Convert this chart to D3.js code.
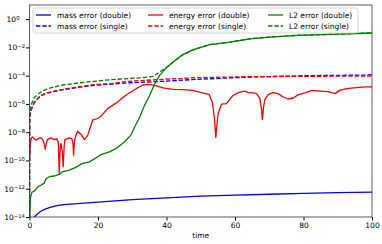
<!DOCTYPE html>
<head>
  <meta charset="utf-8">
  <style>
    body { margin: 0; background: white; }
    svg text { font-family: "DejaVu Sans", sans-serif; font-size: 7.5px; fill: black; }
    svg .series { fill: none; stroke-width: 1.3px; stroke-linejoin: round; }
    svg .dashed { stroke-dasharray: 4.4, 1.9; }
  </style>
</head>
<body>
<script src="https://cdn.jsdelivr.net/npm/d3@7"></script>
<script>
  // values, stored as log10 of the error
  var massDoubleT   = [1.2, 2, 3, 4, 6, 8, 10, 15, 20, 30, 40, 50, 60, 70, 80, 90, 100];
  var massDoubleLog = [-14.05, -13.85, -13.65, -13.5, -13.32, -13.2, -13.12, -13.03, -12.95, -12.77, -12.64, -12.53, -12.45, -12.39, -12.33, -12.28, -12.24];

  var massSingleT   = [0, 0.05, 0.4, 1.4, 3.3, 5.3, 9.2, 14, 18.9, 23.8, 29.2, 39, 48.7, 64.3, 81, 100];
  var massSingleLog = [-14.5, -6.9, -6.5, -5.9, -5.42, -5.23, -5.02, -4.83, -4.68, -4.6, -4.5, -4.4, -4.26, -4.1, -4.0, -3.95];

  var energyDoubleT   = [0, 0.2, 0.5, 0.88, 1.84, 3.13, 3.8, 4.3, 4.59, 4.9, 5.26, 6.23, 7.22, 7.89, 8.4, 8.68, 8.95, 9.15, 9.55, 9.85, 10.1, 10.32, 11.6, 12.37, 12.7, 12.87, 13.05, 13.25, 14.04, 15, 16, 16.96, 18.42, 19.88, 20.85, 22.8, 24.27, 25.73, 27.7, 29.6, 31.6, 33.1, 34.6, 36.5, 39, 41.9, 44.8, 47.7, 50.2, 52.4, 53.4, 54.0, 54.4, 54.8, 55.1, 56.05, 57.5, 59.4, 61.4, 62.9, 63.8, 65.3, 66.3, 67.25, 67.7, 68.0, 68.3, 68.7, 69.7, 71.1, 72.6, 74.1, 75.5, 77, 78.5, 80.4, 82.4, 84.8, 87.2, 89.2, 90.6, 92.6, 95.5, 98, 100];
  var energyDoubleLog = [-10, -8.9, -8.45, -8.33, -8.57, -8.38, -8.5, -8.8, -9.22, -8.8, -8.52, -8.4, -8.52, -8.45, -8.7, -10.92, -9.2, -8.8, -9.3, -10.45, -9.1, -8.52, -8.4, -8.45, -8.8, -9.62, -8.9, -8.45, -7.93, -8.14, -8.52, -8.24, -7.15, -7.03, -6.87, -6.33, -6.1, -5.86, -5.46, -5.16, -4.85, -4.66, -4.61, -4.68, -4.87, -4.97, -4.99, -5.04, -5.2, -5.32, -5.9, -7.0, -8.38, -7.3, -6.68, -6.02, -5.98, -5.39, -5.16, -5.09, -5.18, -5.22, -5.27, -5.6, -6.3, -7.1, -6.3, -5.7, -5.34, -5.2, -5.27, -5.51, -5.65, -5.58, -5.34, -5.22, -5.04, -5.09, -5.13, -5.27, -5.04, -4.92, -4.85, -4.8, -4.8];

  var energySingleT   = [0, 0.05, 0.4, 1.4, 3.3, 5.3, 9.2, 14, 18.9, 23.8, 28.7, 39, 48.7, 64.3, 81, 100];
  var energySingleLog = [-14.5, -7.3, -6.45, -5.86, -5.39, -5.2, -4.99, -4.8, -4.63, -4.56, -4.4, -4.26, -4.14, -4.07, -4.05, -4.02];

  var l2DoubleT   = [0, 0.3, 0.7, 1.5, 2.3, 3.3, 4.3, 4.8, 5.8, 7.2, 8.7, 9.6, 11.6, 13.5, 15.5, 17.5, 19.4, 20.9, 23.3, 25.3, 27.7, 29.6, 30.7, 32.2, 33.6, 35.1, 36.5, 38, 40, 42.4, 44.5, 47.7, 52.6, 58.5, 64.3, 70.2, 78, 87.7, 100];
  var l2DoubleLog = [-14.5, -12.6, -12.25, -12.15, -11.9, -11.75, -11.6, -11.3, -11.15, -11.1, -10.99, -10.8, -10.68, -10.49, -10.21, -10.1, -9.82, -9.58, -9.39, -9.15, -8.69, -8.21, -7.63, -6.92, -6.1, -5.39, -4.61, -3.98, -3.43, -2.95, -2.55, -2.17, -1.81, -1.63, -1.39, -1.27, -1.15, -1.08, -0.98];

  var l2SingleT   = [0, 0.05, 0.4, 1.4, 3.3, 5.3, 9.2, 14, 18.9, 23.8, 28.7, 33.1, 36, 38, 39.5, 40, 42.4, 44.5, 47.7, 52.6, 58.5, 64.3, 70.2, 78, 87.7, 100];
  var l2SingleLog = [-14.5, -6.8, -6.1, -5.55, -5.16, -4.92, -4.68, -4.52, -4.4, -4.28, -4.21, -4.14, -4.05, -3.75, -3.48, -3.43, -2.95, -2.55, -2.17, -1.81, -1.63, -1.39, -1.27, -1.15, -1.08, -0.98];

  var xTicks = [0, 20, 40, 60, 80, 100];
  var yTickExp = [0, -2, -4, -6, -8, -10, -12, -14];

  var series = [
    { name: "mass error (double)",   t: massDoubleT,   v: massDoubleLog,   color: "#0000ff", dashed: false },
    { name: "mass error (single)",   t: massSingleT,   v: massSingleLog,   color: "#0000ff", dashed: true },
    { name: "energy error (double)", t: energyDoubleT, v: energyDoubleLog, color: "#ff0000", dashed: false },
    { name: "energy error (single)", t: energySingleT, v: energySingleLog, color: "#ff0000", dashed: true },
    { name: "L2 error (double)",     t: l2DoubleT,     v: l2DoubleLog,     color: "#008000", dashed: false },
    { name: "L2 error (single)",     t: l2SingleT,     v: l2SingleLog,     color: "#008000", dashed: true }
  ];

  var W = 382, H = 244;
  var margin = { top: 5, right: 10, bottom: 27, left: 29.5 };
  var width = W - margin.left - margin.right,
      height = H - margin.top - margin.bottom;

  var svg = d3.select("body").append("svg")
      .attr("width", W).attr("height", H);
  var g = svg.append("g")
      .attr("transform", "translate(" + margin.left + "," + margin.top + ")");

  var xScale = d3.scaleLinear().domain([0, 100]).range([0, width]);
  var yScale = d3.scaleLog().domain([1e-14, 1e1]).range([height, 0]);

  g.append("clipPath").attr("id", "clip")
    .append("rect").attr("width", width).attr("height", height);

  var line = d3.line()
    .x(function (d) { return xScale(d[0]); })
    .y(function (d) { return yScale(d[1]); });

  var plot = g.append("g").attr("clip-path", "url(#clip)");
  series.forEach(function (s) {
    var pts = s.t.map(function (t, i) { return [t, Math.pow(10, s.v[i])]; });
    plot.append("path")
      .attr("class", "series" + (s.dashed ? " dashed" : ""))
      .attr("d", line(pts))
      .style("stroke", s.color);
  });

  // x axis
  var xAxis = g.append("g")
      .attr("transform", "translate(0," + height + ")")
      .call(d3.axisBottom(xScale).tickValues(xTicks).tickSize(3.5).tickPadding(2));
  xAxis.select(".domain").remove();
  xAxis.selectAll("text").style("font-size", "7.5px").style("font-family", "DejaVu Sans");

  // y axis
  var yAxis = g.append("g")
      .call(d3.axisLeft(yScale)
        .tickValues(yTickExp.map(function (e) { return Math.pow(10, e); }))
        .tickSize(3.5)
        .tickFormat(""));
  yAxis.select(".domain").remove();
  yAxis.selectAll(".tick").each(function (d) {
    var e = Math.round(Math.log10(d));
    var t = d3.select(this).append("text")
      .attr("x", e === 0 ? -10 : -4.5)
      .attr("dy", "0.32em")
      .style("text-anchor", "end")
      .style("fill", "black");
    t.append("tspan").text("10");
    t.append("tspan").attr("dy", "-0.45em").style("font-size", "5.3px")
      .text(e < 0 ? "\u2212" + (-e) : e);
  });

  // frame
  g.append("rect")
    .attr("width", width).attr("height", height)
    .style("fill", "none").style("stroke", "#333").style("stroke-width", 0.8);

  g.append("text")
    .attr("x", width / 2).attr("y", height + 20.5)
    .style("text-anchor", "middle")
    .text("time");

  // legend
  var legend = g.append("g").attr("transform", "translate(3.5,3)");
  legend.append("rect")
    .attr("width", 325).attr("height", 25).attr("rx", 2)
    .style("fill", "white").style("fill-opacity", 0.8)
    .style("stroke", "#ccc").style("stroke-width", 0.8);
  var colX = [3, 115, 235];
  series.forEach(function (s, i) {
    var col = Math.floor(i / 2), row = i % 2;
    var item = legend.append("g")
      .attr("transform", "translate(" + colX[col] + "," + (7 + row * 11) + ")");
    item.append("line")
      .attr("x1", 0).attr("x2", 15)
      .attr("class", "series" + (s.dashed ? " dashed" : ""))
      .style("stroke", s.color);
    item.append("text")
      .attr("x", 21).attr("dy", "0.35em")
      .text(s.name);
  });
</script>
</body>
</html>
